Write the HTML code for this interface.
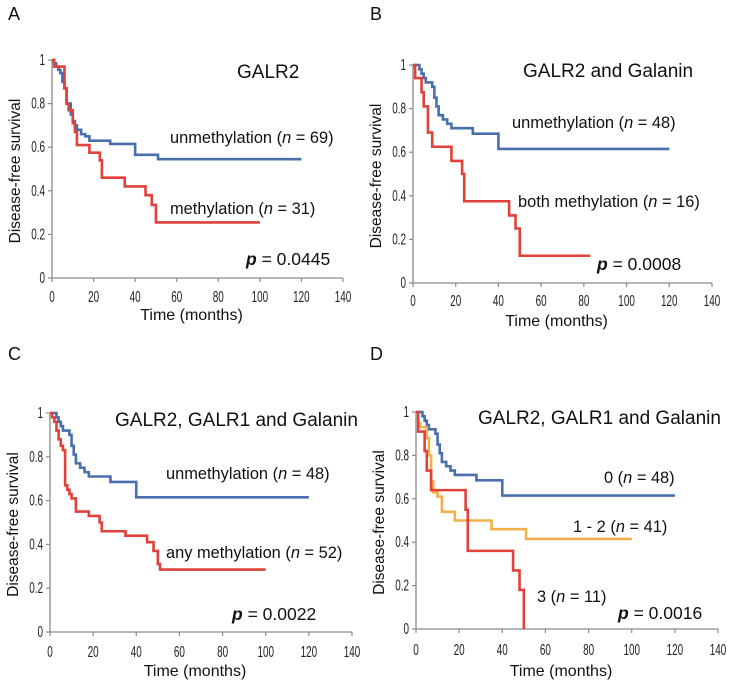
<!DOCTYPE html>
<html><head><meta charset="utf-8"><style>
html,body{margin:0;padding:0;background:#fff;}
svg{display:block;font-family:"Liberation Sans",sans-serif;}
</style></head><body>
<svg id="fig" width="730" height="684" viewBox="0 0 730 684" xmlns="http://www.w3.org/2000/svg"></svg>
<script>
// ---- data (KM step curves: event times and survival after each step) ----
const xTicks = [0,20,40,60,80,100,120,140];
const yTicks = [0,0.2,0.4,0.6,0.8,1];
const yTickLabels = ["0","0.2","0.4","0.6","0.8","1"];

const aBlueT = [0,1,2,3,4,5,6,7,9,10,11,12,14,16,18,28,40,51,120];
const aBlueS = [1,0.985,0.97,0.955,0.94,0.9,0.87,0.8,0.75,0.72,0.7,0.68,0.66,0.65,0.63,0.615,0.565,0.545,0.545];
const aRedT = [0,1,6,7,8,10,11,12,18,23,24,35,45,48,50,100];
const aRedS = [1,0.97,0.87,0.8,0.77,0.71,0.67,0.61,0.575,0.54,0.46,0.42,0.38,0.335,0.255,0.255];

const bBlueT = [0,3,4,5,6,9,10,11,12,14,16,18,28,40,120];
const bBlueS = [1,0.98,0.96,0.94,0.92,0.9,0.85,0.81,0.77,0.75,0.73,0.71,0.685,0.615,0.615];
const bRedT = [0,1,4,5,7,9,18,23,24,45,48,50,83];
const bRedS = [1,0.94,0.875,0.81,0.69,0.625,0.56,0.5,0.375,0.31,0.25,0.125,0.125];

const cBlueT = bBlueT.slice();
const cBlueS = bBlueS.slice();
const cRedT = [0,1,2,3,4,5,6,7,8,9,10,12,18,23,24,35,45,48,50,51,100];
const cRedS = [1,0.98,0.96,0.92,0.88,0.85,0.83,0.67,0.65,0.63,0.61,0.55,0.53,0.5,0.46,0.44,0.41,0.37,0.31,0.285,0.285];

const dBlueT = bBlueT.slice();
const dBlueS = bBlueS.slice();
const dOrangeT = [0,1,2,5,6,7,8,10,12,18,35,51,100];
const dOrangeS = [1,0.95,0.93,0.88,0.8,0.68,0.63,0.61,0.54,0.5,0.46,0.415,0.415];
const dRedT = [0,1,4,5,7,23,24,45,48,50];
const dRedS = [1,0.91,0.82,0.73,0.64,0.55,0.36,0.27,0.18,0];

// ---- layout ----
const NS = "http://www.w3.org/2000/svg";
const svg = document.getElementById('fig');
const BLUE="#4a6fad", RED="#e0413a", ORANGE="#f0b04a";

function mk(tag, attrs, parent){
  const e=document.createElementNS(NS,tag);
  for(const k in attrs) e.setAttribute(k,attrs[k]);
  (parent||svg).appendChild(e); return e;
}

const panels = [
  {id:"a", letter:"A", lx:8, ly:20, x0:52, x1:343, y1:60, y0:278, tickY:302, timeY:320,
   series:[{t:aBlueT,s:aBlueS,c:BLUE,n:"unmethylation-curve"},{t:aRedT,s:aRedS,c:RED,n:"methylation-curve"}],
   title:{x:237,y:78,txt:"GALR2"},
   labels:[{x:170,y:143,pre:"unmethylation (",n:"69",name:"unmethylation-label"},{x:170,y:214,pre:"methylation (",n:"31",name:"methylation-label"}],
   p:{x:246,y:265,v:"0.0445"}},
  {id:"b", letter:"B", lx:370, ly:20, x0:413, x1:712, y1:65, y0:283, tickY:306, timeY:326,
   series:[{t:bBlueT,s:bBlueS,c:BLUE,n:"unmethylation-curve"},{t:bRedT,s:bRedS,c:RED,n:"both-methylation-curve"}],
   title:{x:523,y:77,txt:"GALR2 and Galanin"},
   labels:[{x:512,y:128,pre:"unmethylation (",n:"48",name:"unmethylation-label"},{x:518,y:207,pre:"both methylation (",n:"16",name:"both-methylation-label"}],
   p:{x:597,y:270,v:"0.0008"}},
  {id:"c", letter:"C", lx:8, ly:360, x0:50, x1:352, y1:413, y0:632, tickY:657, timeY:676,
   series:[{t:cBlueT,s:cBlueS,c:BLUE,n:"unmethylation-curve"},{t:cRedT,s:cRedS,c:RED,n:"any-methylation-curve"}],
   title:{x:115,y:426,txt:"GALR2, GALR1 and Galanin"},
   labels:[{x:166,y:479,pre:"unmethylation (",n:"48",name:"unmethylation-label"},{x:166,y:558,pre:"any methylation (",n:"52",name:"any-methylation-label"}],
   p:{x:232,y:620,v:"0.0022"}},
  {id:"d", letter:"D", lx:370, ly:360, x0:416, x1:718, y1:412, y0:629, tickY:655, timeY:676,
   series:[{t:dBlueT,s:dBlueS,c:BLUE,n:"group-0-curve"},{t:dOrangeT,s:dOrangeS,c:ORANGE,n:"group-1-2-curve"},{t:dRedT,s:dRedS,c:RED,n:"group-3-curve"}],
   title:{x:478,y:424,txt:"GALR2, GALR1 and Galanin"},
   labels:[{x:604,y:483,pre:"0 (",n:"48",name:"group-0-label"},{x:573,y:532,pre:"1 - 2 (",n:"41",name:"group-1-2-label"},{x:537,y:602,pre:"3 (",n:"11",name:"group-3-label"}],
   p:{x:618,y:619,v:"0.0016"}}
];

function labelText(g,x,y,pre,n,size,name){
  const t=mk('text',{x:x,y:y,'font-size':size,fill:'#111'},g);
  
  
  const a=mk('tspan',{},t); a.textContent=pre;
  const b=mk('tspan',{'font-style':'italic'},t); b.textContent="n";
  const c=mk('tspan',{},t); c.textContent=" = "+n+")";
}

panels.forEach(P=>{
  const g=mk('g',{});
  
  
  const X=v=>P.x0+(P.x1-P.x0)*v/140;
  const Y=v=>P.y0-(P.y0-P.y1)*v;

  const L=mk('text',{x:P.lx,y:P.ly,'font-size':18,fill:'#111'},g);
  
  
  L.textContent=P.letter;

  const ax=mk('path',{d:`M${P.x0},${P.y1} V${P.y0} H${P.x1}`,stroke:'#8a8a8a','stroke-width':1.3,fill:'none'},g);
  
  
  yTicks.forEach((v,i)=>{
    const tk=mk('line',{x1:P.x0-4,x2:P.x0,y1:Y(v),y2:Y(v),stroke:'#8a8a8a','stroke-width':1.2},g);
    
    
    const tl=mk('text',{x:0,y:0,'font-size':16,'text-anchor':'end',fill:'#222',transform:`translate(${P.x0-7},${Y(v)+5}) scale(0.62,1)`},g);
    
    
    tl.textContent=yTickLabels[i];
  });
  xTicks.forEach(v=>{
    const tk=mk('line',{x1:X(v),x2:X(v),y1:P.y0,y2:P.y0+4,stroke:'#8a8a8a','stroke-width':1.2},g);
    
    
    const tl=mk('text',{x:0,y:0,'font-size':16,'text-anchor':'middle',fill:'#222',transform:`translate(${X(v)},${P.tickY}) scale(0.62,1)`},g);
    
    
    tl.textContent=String(v);
  });
  const xt=mk('text',{x:(P.x0+P.x1)/2-6,y:P.timeY,'font-size':16,'text-anchor':'middle',fill:'#111'},g);
  
  
  xt.textContent="Time (months)";
  const yc=(P.y0+P.y1)/2+2;
  const yt=mk('text',{x:0,y:0,'font-size':15.5,'text-anchor':'middle',fill:'#111',transform:`translate(${P.x0-32},${yc}) rotate(-90)`},g);
  
  
  yt.textContent="Disease-free survival";

  P.series.forEach(S=>{
    let d=`M${X(S.t[0])},${Y(S.s[0])}`;
    for(let i=1;i<S.t.length;i++){ d+=` H${X(S.t[i])} V${Y(S.s[i])}`; }
    const p=mk('path',{d:d,stroke:S.c,'stroke-width':2.6,fill:'none'},g);
    
    
  });

  const tt=mk('text',{x:P.title.x,y:P.title.y,'font-size':19,fill:'#111'},g);
  
  
  tt.textContent=P.title.txt;
  P.labels.forEach(l=>labelText(g,l.x,l.y,l.pre,l.n,16.4,l.name));
  const pt=mk('text',{x:P.p.x,y:P.p.y,'font-size':17.5,fill:'#111'},g);
  
  
  const pa=mk('tspan',{'font-style':'italic','font-weight':'bold'},pt); pa.textContent="p";
  const pb=mk('tspan',{},pt); pb.textContent=" = "+P.p.v;
});
</script>
</body></html>
